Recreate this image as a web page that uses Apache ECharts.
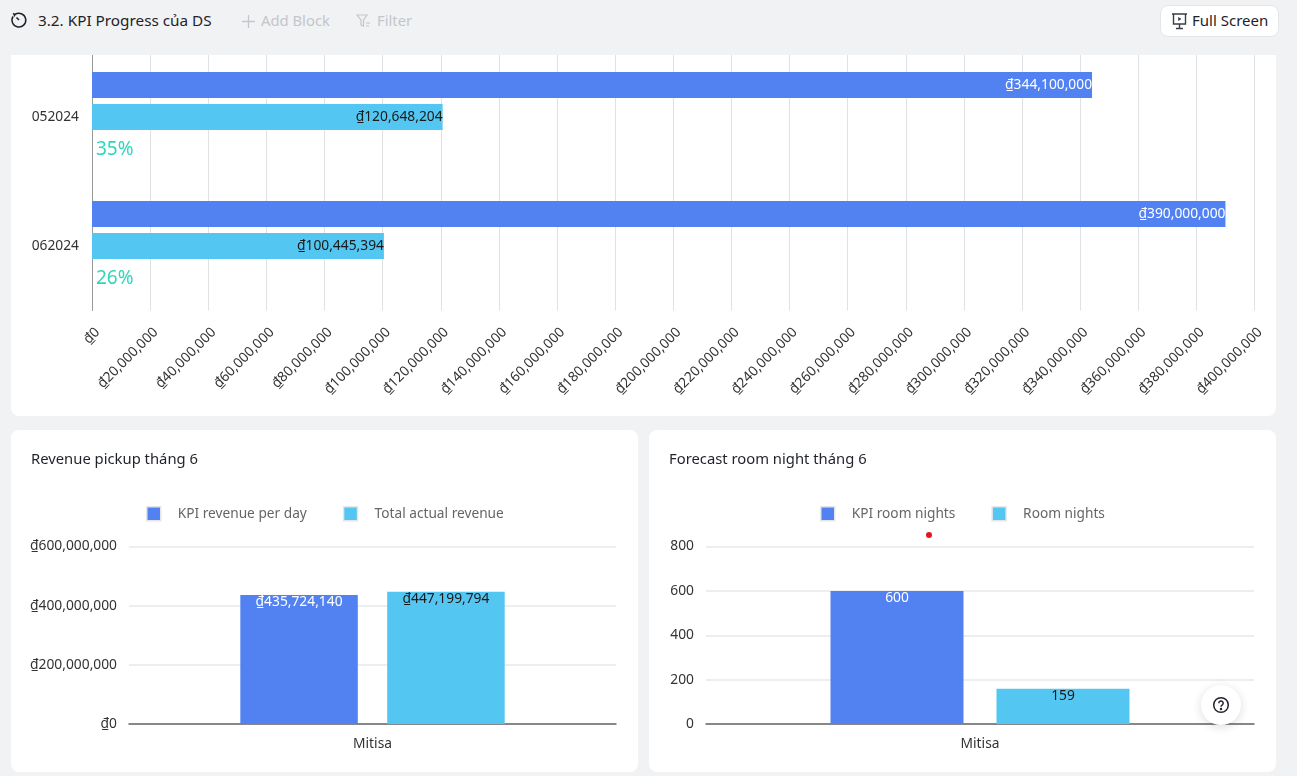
<!DOCTYPE html>
<html><head><meta charset="utf-8">
<script src="https://cdn.jsdelivr.net/npm/echarts@6/dist/echarts.min.js"></script>
<style>
html,body{margin:0;padding:0;width:1297px;height:776px;overflow:hidden;background:#f1f2f4;font-family:"Noto Sans",sans-serif;color:#1f2329}
.card{position:absolute;background:#fff;overflow:hidden}
.chart{position:absolute}
.title{position:absolute;left:20px;top:18px;font-size:14.8px;color:#1f2329;z-index:2}
.h{position:absolute;top:9px;font-size:15.3px;line-height:22px;white-space:nowrap}
.g{color:#c3c6cb;font-size:14.8px}
svg{position:absolute}
#fs{position:absolute;left:1160px;top:5px;width:117px;height:30px;border:1px solid #e3e5e8;border-radius:8px;background:#fff}
#help{position:absolute;left:1201px;top:685px;width:40px;height:40px;border-radius:50%;background:#fff;box-shadow:0 2px 10px rgba(0,0,0,.14);z-index:5}
#dot{position:absolute;left:926px;top:532px;width:6px;height:6px;border-radius:50%;background:#e8141c;z-index:5}
</style></head><body>
<svg style="left:10px;top:11px" width="18" height="18" viewBox="0 0 18 18" fill="none" stroke="#1f2329" stroke-width="1.5"><path d="M5 3.4A6.9 6.9 0 1 1 3 5.5"/><path d="M9 9 6.5 6.5M3 2.5l2 1-1 2"/></svg>
<div class="h" style="left:38px">3.2. KPI Progress của DS</div>
<svg style="left:241px;top:14px" width="15" height="15" viewBox="0 0 15 15" stroke="#c3c6cb" stroke-width="1.3"><path d="M7.5 1v13M1 7.500h13"/></svg>
<div class="h g" style="left:261px">Add Block</div>
<svg style="left:356px;top:14px" width="16" height="14" viewBox="0 0 16 14" fill="none" stroke="#c3c6cb" stroke-width="1.2"><path d="M1 1h10L7.500 6v6L5 11V6zM10 9h4M10 12h3"/></svg>
<div class="h g" style="left:377px">Filter</div>
<div id="fs"><svg style="left:10px;top:6px" width="18" height="18" viewBox="0 0 18 18" fill="none" stroke="#3a3f45" stroke-width="1.4"><path d="M1 2h15M2.500 2v10h12V2M8.500 12v4M5 16.500h7"/><path d="M7.200 5v4l3.300-2z" fill="#3a3f45" stroke="none"/></svg><div style="position:absolute;left:31px;top:3px;font-size:15px;line-height:22px">Full Screen</div></div>

<div class="card" style="left:11px;top:55px;width:1265px;height:361px;border-radius:0 0 8px 8px"><div id="c1" class="chart" style="left:0;top:-15px;width:1265px;height:376px"></div></div>
<div class="card" style="left:11px;top:430px;width:627px;height:342px;border-radius:8px"><div class="title">Revenue pickup tháng 6</div><div id="c2" class="chart" style="left:0;top:0;width:627px;height:342px"></div></div>
<div class="card" style="left:649px;top:430px;width:627px;height:342px;border-radius:8px"><div class="title">Forecast room night tháng 6</div><div id="c3" class="chart" style="left:0;top:0;width:627px;height:342px"></div></div>
<div id="dot"></div>
<div id="help"><svg style="left:11px;top:11px" width="18" height="18" viewBox="0 0 18 18" fill="none" stroke="#1f2329" stroke-width="1.5"><circle cx="9" cy="9" r="7.300"/><path d="M6.800 7.200a2.200 2.200 0 1 1 3.300 1.900c-.8.500-1.100.9-1.100 1.700"/><circle cx="9" cy="13" r=".5" fill="#1f2329"/></svg></div>
<script>
const months = ['052024', '062024'];
const kpiMonthly = [344100000, 390000000];
const actualMonthly = [120648204, 100445394];
const progressPct = [35, 26];

const shop = ['Mitisa'];
const kpiRevenue = [435724140];
const actualRevenue = [447199794];
const kpiRooms = [600];
const rooms = [159];

const FONT = '"Noto Sans", sans-serif';
const SIZE = 13.8;
const BLUE = '#5282f1', CYAN = '#54c6f2';
const vnd = v => '₫' + Number(v).toLocaleString('en-US');
const label = (color, fmt, pos) => ({show: true, position: pos, distance: 0, color, fontSize: SIZE, fontFamily: FONT, formatter: p => fmt(p.value)});

echarts.init(document.getElementById('c1')).setOption({
  animation: false,
  grid: {left: 81, top: 12.5, width: 1162.5, height: 258, containLabel: false},
  xAxis: {type: 'value', min: 0, max: 400000000, interval: 20000000,
    axisLine: {show: false}, axisTick: {show: false},
    splitLine: {lineStyle: {color: '#dfe1e4', width: 1}},
    axisLabel: {rotate: 45, margin: 14, color: '#333', fontSize: SIZE, fontFamily: FONT, formatter: vnd, hideOverlap: false, interval: 0, verticalAlign: 'top', padding: [1, 0, 0, 0]}},
  yAxis: {type: 'category', inverse: true, data: months,
    axisLine: {show: true, lineStyle: {color: '#999', width: 1}}, axisTick: {show: false},
    axisLabel: {margin: 13, color: '#333', fontSize: SIZE, fontFamily: FONT, padding: [2, 0, 0, 0]}},
  series: [
    {type: 'bar', data: kpiMonthly, barWidth: 26, barGap: '23%', itemStyle: {color: BLUE},
      label: label('#fff', vnd, 'insideRight')},
    {type: 'bar', data: actualMonthly, barWidth: 26, itemStyle: {color: CYAN},
      label: label('#1a1a1a', vnd, 'insideRight')},
    {type: 'bar', data: progressPct, barWidth: 26, itemStyle: {color: 'transparent'},
      label: {show: true, position: 'right', distance: 4, offset: [0, 1], color: '#2fd6bd', fontSize: 19, fontFamily: FONT, formatter: p => p.value + '%'}}
  ]
});

function small(id, gridLeft, gridWidth, legendLeft, names, a, b, max, interval, fmt, barW, gap) {
  echarts.init(document.getElementById(id)).setOption({
    animation: false,
    legend: {left: legendLeft, top: 76, padding: 0, data: names, itemWidth: 14, itemHeight: 14, itemGap: 36, icon: 'rect',
      itemStyle: {borderColor: '#e4e6ea', borderWidth: 1.5},
      textStyle: {color: '#666', fontSize: 13.7, fontFamily: FONT, padding: [0, 0, 0, 12]}},
    grid: {left: gridLeft, top: 116.5, width: gridWidth, height: 177.5},
    xAxis: {type: 'category', data: shop, axisTick: {show: false},
      axisLine: {lineStyle: {color: '#666', width: 1.5}},
      axisLabel: {margin: 13, color: '#333', fontSize: SIZE, fontFamily: FONT}},
    yAxis: {type: 'value', min: 0, max, interval, axisLine: {show: false}, axisTick: {show: false},
      splitLine: {lineStyle: {color: '#e6e8eb', width: 1.5}},
      axisLabel: {margin: 12, color: '#333', fontSize: SIZE, fontFamily: FONT, formatter: fmt}},
    series: [
      {name: names[0], type: 'bar', data: a, barWidth: barW, barGap: gap, itemStyle: {color: BLUE},
        label: label('#fff', fmt, 'insideTop')},
      {name: names[1], type: 'bar', data: b, barWidth: barW, itemStyle: {color: CYAN},
        label: label('#1a1a1a', fmt, 'insideTop')}
    ]
  });
}
small('c2', 118, 487, 135, ['KPI revenue per day', 'Total actual revenue'], kpiRevenue, actualRevenue, 600000000, 200000000, vnd, 117.5, '25%');
small('c3', 57, 548, 171, ['KPI room nights', 'Room nights'], kpiRooms, rooms, 800, 200, v => String(v), 133, '24.8%');
</script>
</body></html>
